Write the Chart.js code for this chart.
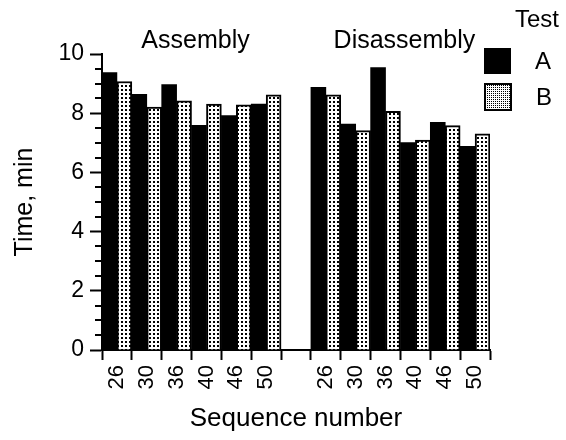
<!DOCTYPE html>
<html>
<head>
<meta charset="utf-8">
<script src="https://cdn.jsdelivr.net/npm/chart.js@4.4.1/dist/chart.umd.min.js"></script>
<style>
  html, body { margin: 0; padding: 0; background: #fff; }
  #wrap { width: 566px; height: 440px; }
</style>
</head>
<body>
<div id="wrap"><canvas id="c" width="566" height="440"></canvas></div>
<script>
// ---- data ----
const sequenceNumbers = ['26', '30', '36', '40', '46', '50'];
const groupNames = ['Assembly', 'Disassembly'];
const testNames = ['A', 'B'];
const assemblyA = [9.37, 8.64, 8.97, 7.59, 7.92, 8.31];
const assemblyB = [9.07, 8.21, 8.42, 8.31, 8.28, 8.62];
const disassemblyA = [8.87, 7.63, 9.54, 7.01, 7.69, 6.88];
const disassemblyB = [8.62, 7.41, 8.06, 7.09, 7.58, 7.30];
const yTicks = [0, 2, 4, 6, 8, 10];

// ---- build ----
const labels = [...sequenceNumbers, '', ...sequenceNumbers];
const seriesA = [...assemblyA, null, ...disassemblyA];
const seriesB = [...assemblyB, null, ...disassemblyB];

const FONT = '"Liberation Sans", Arial, Helvetica, sans-serif';

function makePattern(size, dot) {
  const pc = document.createElement('canvas');
  pc.width = size; pc.height = size;
  const p = pc.getContext('2d');
  p.fillStyle = '#fff'; p.fillRect(0, 0, size, size);
  p.fillStyle = '#000'; p.fillRect(1, 1, dot, dot);
  return document.getElementById('c').getContext('2d').createPattern(pc, 'repeat');
}
const dotPattern = makePattern(4, 2);
const finePattern = makePattern(2, 1);

const decorPlugin = {
  id: 'decor',
  afterDraw(chart) {
    const ctx = chart.ctx;
    const x = chart.scales.x, y = chart.scales.y;
    const ca = chart.chartArea;
    ctx.save();
    // minor y ticks
    ctx.strokeStyle = '#000';
    ctx.lineWidth = 2;
    for (let v = 0; v <= 10; v += 0.5) {
      if (yTicks.includes(v)) continue;
      const py = Math.round(y.getPixelForValue(v));
      ctx.beginPath();
      ctx.moveTo(ca.left - 7, py);
      ctx.lineTo(ca.left, py);
      ctx.stroke();
    }
    // group labels
    ctx.fillStyle = '#000';
    ctx.font = '25px ' + FONT;
    ctx.textAlign = 'center';
    ctx.textBaseline = 'alphabetic';
    const n = sequenceNumbers.length;
    const c1 = (x.getPixelForValue(0) + x.getPixelForValue(n - 1)) / 2 + 4;
    const c2 = (x.getPixelForValue(n + 1) + x.getPixelForValue(2 * n)) / 2 + 4;
    ctx.fillText(groupNames[0], c1, 48);
    ctx.fillText(groupNames[1], c2, 48);
    // legend
    ctx.font = '24px ' + FONT;
    ctx.textAlign = 'center';
    ctx.textBaseline = 'middle';
    ctx.fillText('Test', 537, 20);
    ctx.fillStyle = '#000';
    ctx.fillRect(484, 48, 27, 26);
    ctx.fillStyle = finePattern;
    ctx.fillRect(485, 84, 26, 26);
    ctx.strokeStyle = '#000';
    ctx.lineWidth = 2;
    ctx.strokeRect(485, 84, 26, 26);
    ctx.fillStyle = '#000';
    ctx.textAlign = 'left';
    ctx.fillText(testNames[0], 535, 62);
    ctx.fillText(testNames[1], 536, 98);
    ctx.restore();
  }
};

new Chart(document.getElementById('c'), {
  type: 'bar',
  data: {
    labels: labels,
    datasets: [
      {
        label: testNames[0],
        data: seriesA,
        backgroundColor: '#000',
        borderColor: '#000',
        borderWidth: 0,
        barPercentage: 1,
        categoryPercentage: 1
      },
      {
        label: testNames[1],
        data: seriesB,
        backgroundColor: dotPattern,
        borderColor: '#000',
        borderWidth: 2,
        barPercentage: 1,
        categoryPercentage: 1
      }
    ]
  },
  options: {
    responsive: false,
    animation: false,
    devicePixelRatio: 1,
    layout: { padding: { left: 0, right: 76, top: 54, bottom: 0 } },
    plugins: { legend: { display: false }, tooltip: { enabled: false } },
    scales: {
      x: {
        offset: true,
        grid: { offset: true, drawOnChartArea: false, tickLength: 10, tickWidth: 2, tickColor: '#000', color: '#000' },
        border: { display: true, color: '#000', width: 2 },
        ticks: {
          autoSkip: false, minRotation: 90, maxRotation: 90, padding: 5,
          color: '#000', font: { family: FONT, size: 22 }
        },
        title: {
          display: true, text: 'Sequence number', color: '#000',
          font: { family: FONT, size: 26 }, padding: { top: 0, bottom: 6 }
        },
        afterFit(scale) { scale.height = 90; }
      },
      y: {
        min: 0, max: 10,
        afterBuildTicks(scale) { scale.ticks = yTicks.map(v => ({ value: v })); },
        grid: { drawOnChartArea: false, tickLength: 12, tickWidth: 2, tickColor: '#000', color: '#000' },
        border: { display: true, color: '#000', width: 2 },
        ticks: { padding: 6, color: '#000', font: { family: FONT, size: 23 } },
        title: {
          display: true, text: 'Time, min', color: '#000',
          font: { family: FONT, size: 25 }, padding: { top: 10, bottom: 0 }
        },
        afterFit(scale) { scale.width = 102; }
      }
    }
  },
  plugins: [decorPlugin]
});
</script>
</body>
</html>
